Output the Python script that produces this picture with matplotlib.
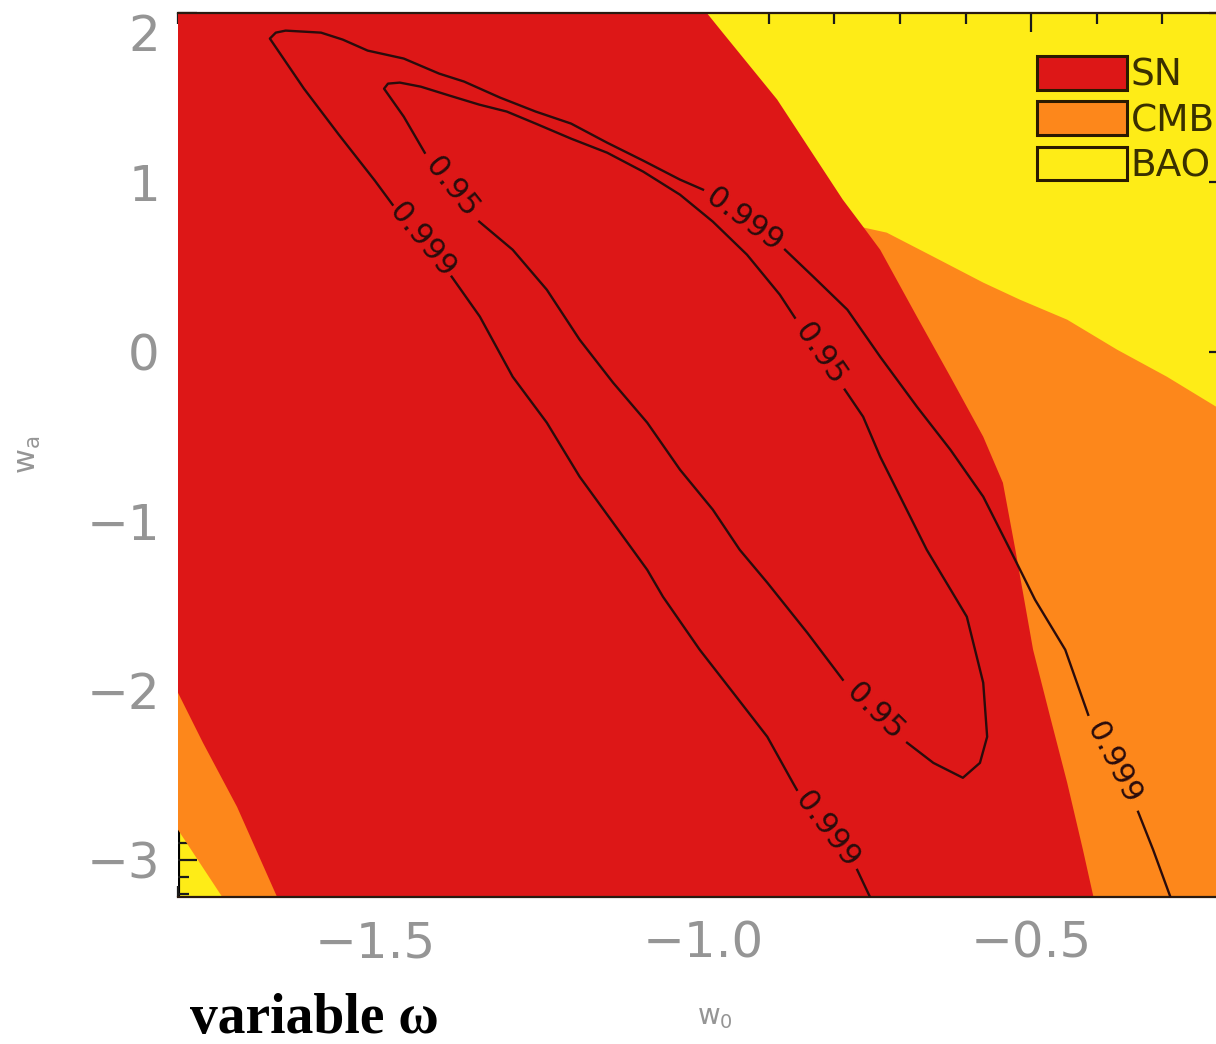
import numpy as np
import matplotlib
matplotlib.use("Agg")
import matplotlib.pyplot as plt
from matplotlib.patches import Patch
from matplotlib.ticker import FixedLocator, MultipleLocator

# allowed regions (w0, wa)
sn_w0 = [-1.85, -1.015, -0.970, -0.887, -0.787, -0.756, -0.730, -0.674, -0.623, -0.573,
         -0.543, -0.524, -0.497, -0.471, -0.445, -0.421, -0.405, -0.400, -1.640, -1.649,
         -1.710, -1.762, -1.800, -1.85]
sn_wa = [2.10, 2.10, 1.884, 1.489, 0.898, 0.738, 0.602, 0.207, -0.148, -0.502,
         -0.774, -1.170, -1.760, -2.156, -2.546, -2.942, -3.22, -3.30, -3.30, -3.22,
         -2.688, -2.309, -2.014, -2.014]

cmb_w0 = [-0.806, -0.761, -0.720, -0.649, -0.573, -0.517, -0.445, -0.369, -0.293, -0.218,
          -0.150, -0.150, -1.719, -1.800, -1.85, -1.85]
cmb_wa = [0.957, 0.738, 0.703, 0.561, 0.408, 0.307, 0.189, 0.012, -0.148, -0.325,
          -0.485, -3.30, -3.30, -2.823, -2.53, -1.50]

# contour lines, None = gap where the label sits
c999_w0 = [-0.742, -0.765, None,
           -0.857, -0.863, -0.902, -0.954, -1.005, -1.061, -1.085, -1.137, -1.188, -1.238,
           -1.290, -1.340, -1.383, None,
           -1.473, -1.500, -1.555, -1.608, -1.660, -1.651, -1.636, -1.582, -1.549, -1.511,
           -1.456, -1.402, -1.364, -1.309, -1.255, -1.201, -1.146, -1.091, -1.035, -1.000, None,
           -0.875, -0.832, -0.780, -0.730, -0.674, -0.623, -0.573, -0.532, -0.494, -0.448,
           -0.413, None,
           -0.337, -0.314, -0.285]
c999_wa = [-3.249, -3.060, None,
           -2.587, -2.546, -2.274, -2.014, -1.760, -1.447, -1.288, -1.010, -0.738, -0.419,
           -0.148, 0.207, 0.443, None,
           0.868, 1.010, 1.282, 1.553, 1.849, 1.884, 1.896, 1.884, 1.843, 1.778,
           1.731, 1.642, 1.595, 1.500, 1.418, 1.347, 1.234, 1.128, 1.016, 0.957, None,
           0.602, 0.443, 0.248, -0.030, -0.325, -0.579, -0.856, -1.170, -1.465, -1.760,
           -2.144, None,
           -2.717, -2.942, -3.249]

c95_w0 = [-1.341, -1.290, -1.238, -1.188, -1.137, -1.085, -1.035, -0.985, -0.944, -0.902,
          -0.841, -0.787, None,
          -0.689, -0.649, -0.604, -0.578, -0.567, -0.573, -0.598, -0.659, -0.730, -0.756,
          -0.784, None,
          -0.860, -0.883, -0.933, -0.985, -1.035, -1.091, -1.146, -1.201, -1.255, -1.299,
          -1.341, -1.386, -1.430, -1.462, -1.480, -1.486, -1.456, -1.424, None, -1.341]
c95_wa = [0.768, 0.602, 0.366, 0.071, -0.183, -0.419, -0.697, -0.933, -1.170, -1.364,
          -1.660, -1.937, None,
          -2.309, -2.428, -2.516, -2.428, -2.274, -1.955, -1.565, -1.170, -0.620, -0.384,
          -0.224, None,
          0.201, 0.337, 0.573, 0.768, 0.927, 1.063, 1.175, 1.258, 1.347, 1.418,
          1.459, 1.512, 1.565, 1.589, 1.583, 1.553, 1.388, 1.175, None, 0.768]

names = ["SN", "CMB", "BAO"]
red = "#dd1717"
orange = "#fd871b"
yellow = "#feec17"
gray = "#959595"
ink = "#2a0c0c"

fig = plt.figure(figsize=(12.16, 10.44), dpi=100)
ax = fig.add_axes([178/1216, 147/1044, 1050/1216, 884/1044])
ax.set_facecolor(yellow)
ax.set_axisbelow(True)

ax.fill(cmb_w0, cmb_wa, color=orange, lw=0)
ax.fill(sn_w0, sn_wa, color=red, lw=0)

def draw_contour(xs, ys, text):
    xs = np.array(xs, dtype=float)
    ys = np.array(ys, dtype=float)
    ax.plot(xs, ys, color=ink, lw=1.7, zorder=3)
    for i in np.where(np.isnan(xs))[0]:
        x1, y1, x2, y2 = xs[i-1], ys[i-1], xs[i+1], ys[i+1]
        p1 = ax.transData.transform((x1, y1))
        p2 = ax.transData.transform((x2, y2))
        ang = np.degrees(np.arctan2(p2[1]-p1[1], p2[0]-p1[0]))
        if ang > 90:
            ang -= 180
        elif ang <= -90:
            ang += 180
        ax.text((x1+x2)/2, (y1+y2)/2, text, rotation=ang, rotation_mode="anchor",
                ha="center", va="center", fontsize=22, color=ink, zorder=4)

ax.set_xlim(-1.8, -0.2)
ax.set_ylim(-3.22, 2.0)

draw_contour(c999_w0, c999_wa, "0.999")
draw_contour(c95_w0, c95_wa, "0.95")

ax.xaxis.set_major_locator(FixedLocator([-1.5, -1.0, -0.5]))
ax.xaxis.set_minor_locator(MultipleLocator(0.1))
ax.yaxis.set_major_locator(FixedLocator([-3, -2, -1, 0, 1, 2]))
ax.yaxis.set_minor_locator(MultipleLocator(0.1))
ax.set_xticklabels(["\u22121.5", "\u22121.0", "\u22120.5"])
ax.set_yticklabels(["\u22123", "\u22122", "\u22121", "0", "1", "2"])
ax.tick_params(which="both", direction="in", top=True, right=True, color="#1a1a1a", width=1.6)
ax.tick_params(which="major", length=14)
ax.tick_params(which="minor", length=8)
ax.tick_params(axis="x", which="major", labelsize=36, labelcolor=gray, pad=16)
ax.tick_params(axis="y", which="major", labelsize=36, labelcolor=gray, pad=13)
ax.yaxis.get_major_ticks()[-1].label1.set_verticalalignment("top")

for side in ["left", "right"]:
    ax.spines[side].set_zorder(0.5)
    ax.spines[side].set_clip_path(ax.patch)
    ax.spines[side].set_linewidth(3)
for side in ["top", "bottom"]:
    ax.spines[side].set_linewidth(1.6)
    ax.spines[side].set_color("#2a1a10")

ax.set_xlabel("$\\mathregular{w_0}$", fontsize=20, color=gray)
ax.set_ylabel("$\\mathregular{w_a}$", fontsize=22, color=gray)
ax.xaxis.set_label_coords(0.511, -0.12)
ax.yaxis.set_label_coords(-0.129, 0.5)

handles = [Patch(facecolor=c, edgecolor="#2a1a00", linewidth=2.2) for c in (red, orange, yellow)]
leg = ax.legend(handles, names, loc="upper left", bbox_to_anchor=(0.818, 0.951),
                frameon=False, fontsize=27, handlelength=2.4, handleheight=1.0,
                handletextpad=0.1, labelspacing=0.2, borderpad=0, borderaxespad=0)
for t in leg.get_texts():
    t.set_color("#3a3000")

fig.text(190/1216, 11/1044, "variable \u03c9", family="Liberation Serif", weight="bold",
         fontsize=40, va="baseline", ha="left", color="black")

fig.savefig("out.png", dpi=100)
